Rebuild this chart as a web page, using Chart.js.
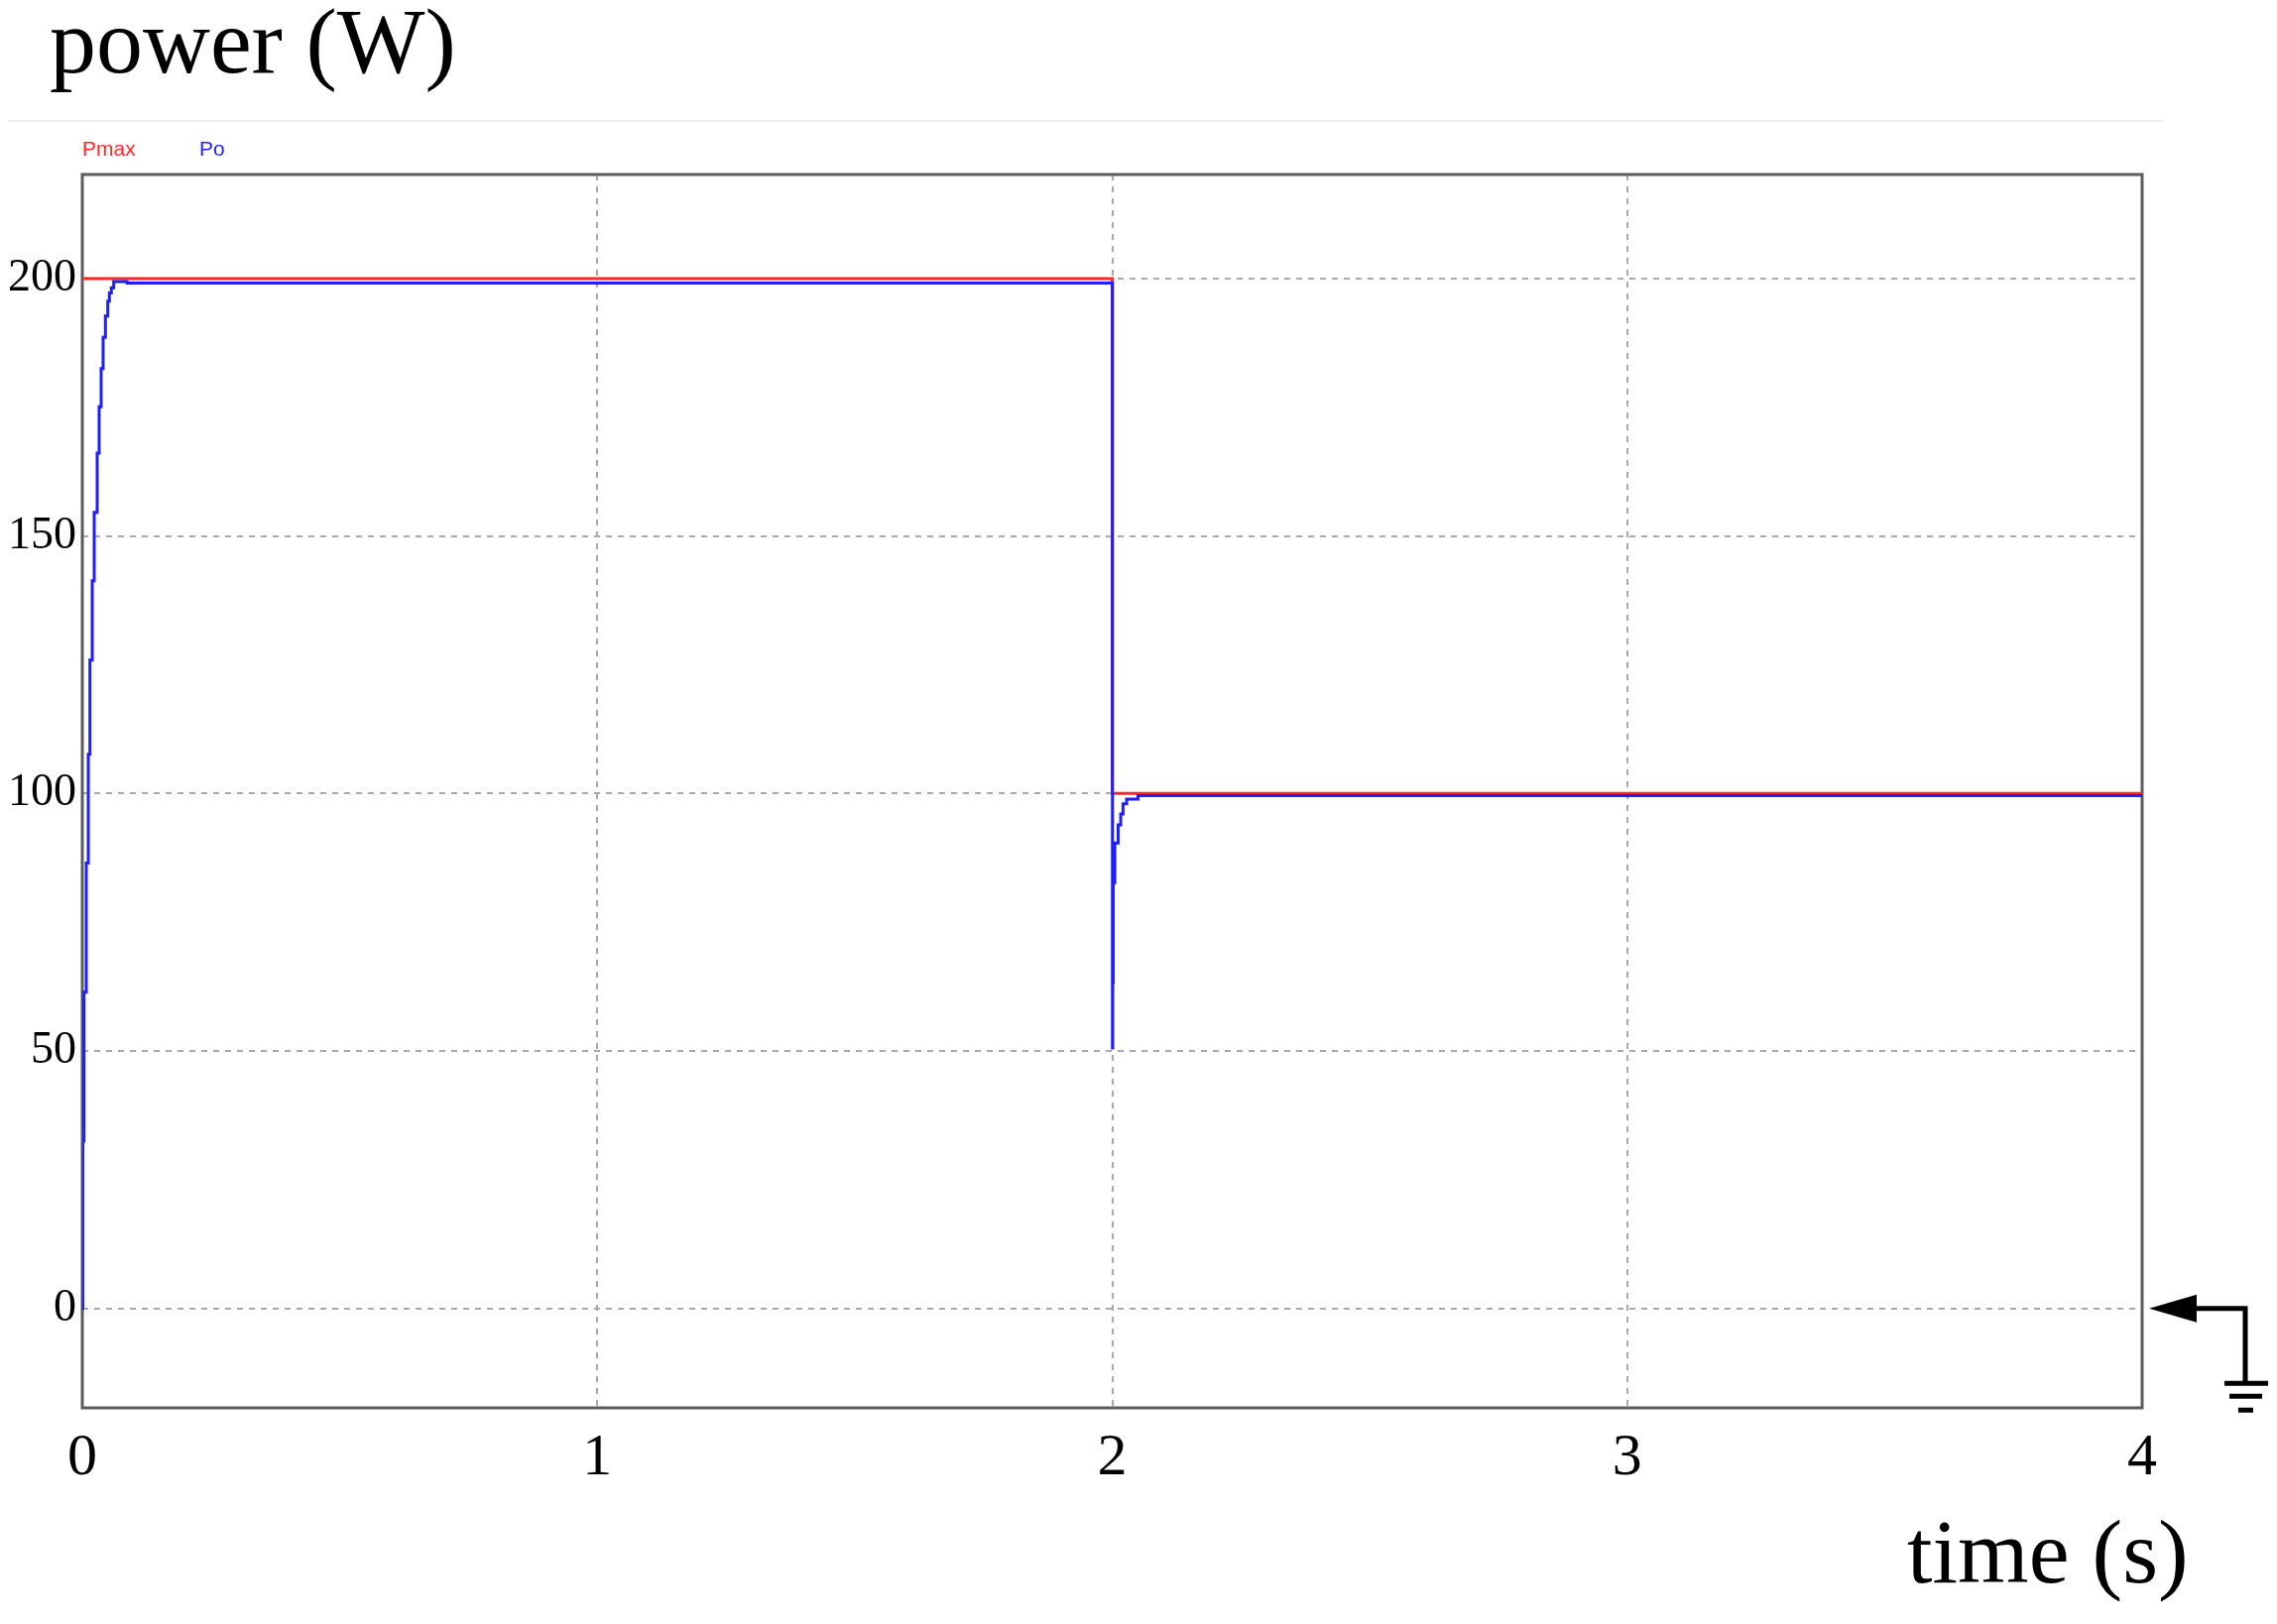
<!DOCTYPE html>
<html>
<head>
<meta charset="utf-8">
<script src="https://cdn.jsdelivr.net/npm/chart.js@4.4.1/dist/chart.umd.min.js"></script>
<style>
  html, body { margin: 0; padding: 0; background: #ffffff; }
  canvas { display: block; }
</style>
</head>
<body>
<canvas id="powerChart" width="2296" height="1638"></canvas>
<script>
// values
const yTitle = 'power (W)';
const xTitle = 'time (s)';
const xTicks = [0, 1, 2, 3, 4];
const yTicks = [0, 50, 100, 150, 200];

const pmaxTime = [0, 2, 2, 4];
const pmaxValue = [200, 200, 100, 100];

const poTime = [0, 0.0008, 0.0033, 0.0077, 0.0116, 0.0148, 0.0193, 0.0231, 0.0289, 0.0327,
    0.0366, 0.0404, 0.0449, 0.0495, 0.0526, 0.0564, 0.061, 0.087,
    2.0, 2.0005, 2.001, 2.002, 2.005, 2.0115, 2.0165, 2.021, 2.028, 2.05, 4];
const poValue = [0, 32.5, 61.4, 86.5, 107.6, 125.9, 141.3, 154.6, 166.1, 175.1,
    182.5, 188.6, 192.7, 195.6, 197.2, 198.2, 199.4, 199.1,
    199.1, 50.6, 63.3, 82.7, 90.4, 93.9, 96, 98, 98.9, 99.6, 99.6];

const toPoints = (xs, ys) => xs.map((x, i) => ({ x: x, y: ys[i] }));

// frame, titles, legend and the ground marker
const decorations = {
    id: 'decorations',
    beforeDatasetsDraw(chart) {
        const { ctx, chartArea } = chart;
        ctx.save();
        ctx.strokeStyle = '#5c5c5c';
        ctx.lineWidth = 3;
        ctx.strokeRect(chartArea.left, chartArea.top,
            chartArea.right - chartArea.left, chartArea.bottom - chartArea.top);
        ctx.restore();
    },
    afterDraw(chart) {
        const { ctx, chartArea } = chart;
        ctx.save();
        ctx.fillStyle = '#000';
        ctx.textBaseline = 'alphabetic';
        ctx.textAlign = 'left';
        ctx.font = '94px "Liberation Serif"';
        ctx.fillText(yTitle, 50, 73);
        ctx.font = '92px "Liberation Serif"';
        ctx.fillText(xTitle, 1923, 1596);

        // faint separator under the title
        ctx.strokeStyle = '#efefef';
        ctx.lineWidth = 2;
        ctx.beginPath();
        ctx.moveTo(8, 122);
        ctx.lineTo(2182, 122);
        ctx.stroke();

        // legend
        ctx.font = '21px "Liberation Sans"';
        const legendX = [83, 201];
        chart.data.datasets.forEach((ds, i) => {
            ctx.fillStyle = ds.borderColor;
            ctx.fillText(ds.label, legendX[i], 157);
        });

        // ground marker pointing at zero
        const y0 = chart.scales.y.getPixelForValue(0);
        const tip = chartArea.right + 7;
        ctx.fillStyle = '#000';
        ctx.strokeStyle = '#000';
        ctx.beginPath();
        ctx.moveTo(tip, y0);
        ctx.lineTo(tip + 48, y0 - 14);
        ctx.lineTo(tip + 48, y0 + 14);
        ctx.closePath();
        ctx.fill();
        ctx.lineWidth = 5;
        ctx.beginPath();
        ctx.moveTo(tip + 44, y0);
        ctx.lineTo(tip + 97, y0);
        ctx.lineTo(tip + 97, y0 + 76);
        ctx.stroke();
        ctx.fillRect(tip + 76, y0 + 73, 44, 5);
        ctx.fillRect(tip + 81, y0 + 86, 33, 5);
        ctx.fillRect(tip + 90, y0 + 100, 15, 5);
        ctx.restore();
    }
};

const ctx = document.getElementById('powerChart').getContext('2d');
const chart = new Chart(ctx, {
    type: 'line',
    data: {
        datasets: [{
            label: 'Pmax',
            data: toPoints(pmaxTime, pmaxValue),
            borderColor: 'rgb(255, 40, 40)',
            borderWidth: 3,
            pointRadius: 0,
            order: 2
        }, {
            label: 'Po',
            data: toPoints(poTime, poValue),
            borderColor: 'rgb(30, 30, 255)',
            borderWidth: 3,
            pointRadius: 0,
            stepped: 'before',
            order: 1
        }]
    },
    options: {
        responsive: false,
        animation: false,
        devicePixelRatio: 1,
        layout: {
            padding: { left: 0, top: 176, right: 136, bottom: 0 }
        },
        plugins: {
            legend: { display: false },
            tooltip: { enabled: false }
        },
        scales: {
            x: {
                type: 'linear',
                min: 0,
                max: 4,
                afterBuildTicks: (scale) => { scale.ticks = xTicks.map(v => ({ value: v })); },
                afterFit: (scale) => { scale.height = 218; },
                grid: { color: '#a9a9a9', lineWidth: 2, drawTicks: false },
                border: { display: false, dash: [6, 6] },
                ticks: {
                    color: '#000',
                    padding: 15,
                    maxRotation: 0,
                    font: { family: 'Liberation Serif', size: 60, lineHeight: 1.2 }
                }
            },
            y: {
                type: 'linear',
                min: -19.3,
                max: 220.2,
                afterBuildTicks: (scale) => { scale.ticks = yTicks.map(v => ({ value: v })); },
                afterFit: (scale) => { scale.width = 83; },
                grid: { color: '#a9a9a9', lineWidth: 2, drawTicks: false },
                border: { display: false, dash: [6, 6] },
                ticks: {
                    color: '#000',
                    padding: 6,
                    font: { family: 'Liberation Serif', size: 46 }
                }
            }
        }
    },
    plugins: [decorations]
});
</script>
</body>
</html>
